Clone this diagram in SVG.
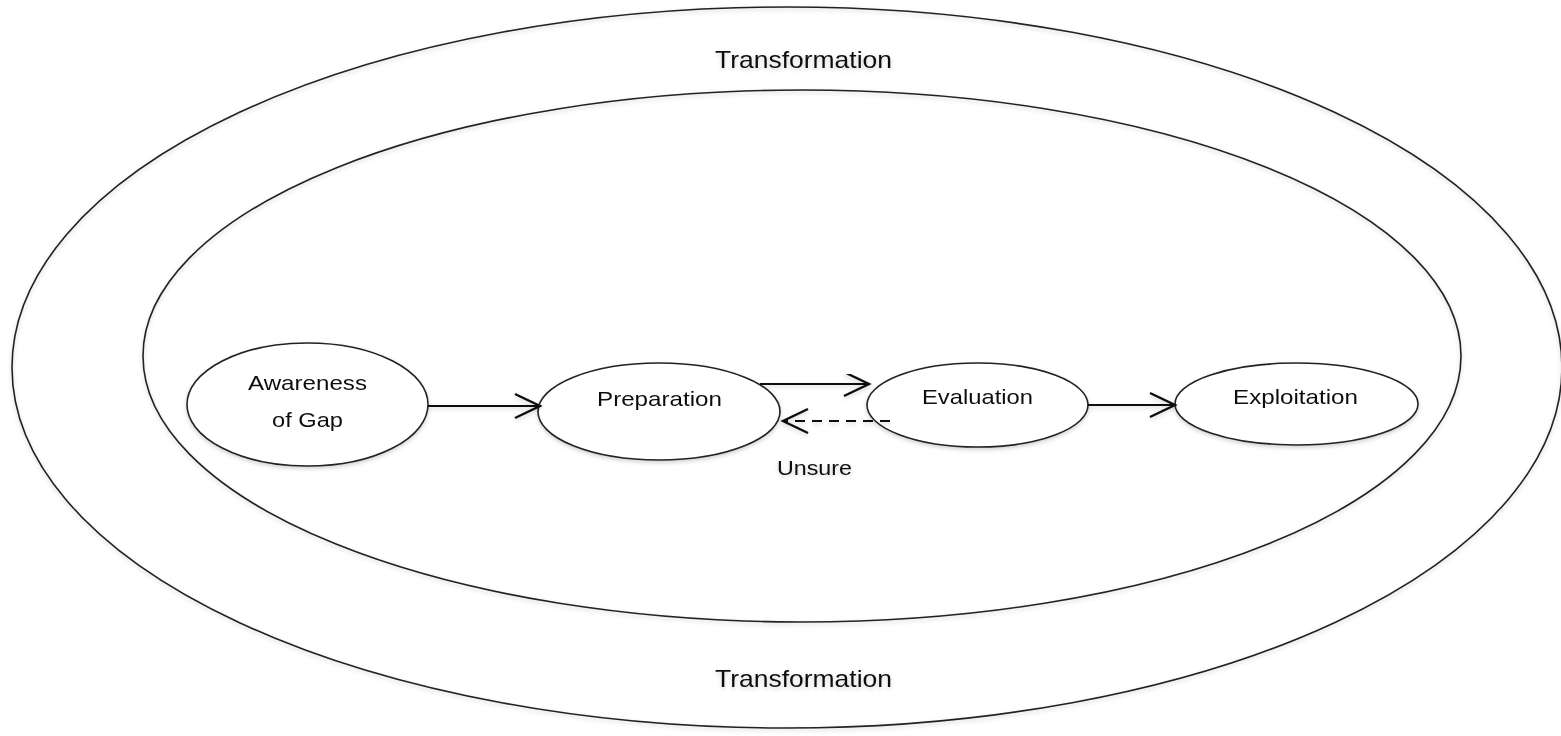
<svg xmlns="http://www.w3.org/2000/svg" width="1561" height="736" viewBox="0 0 1561 736">
<style>
.ring{fill:none;stroke:#222;stroke-width:1.6}
.node{fill:#fff;stroke:#222;stroke-width:1.6}
.lbl{font-family:"Liberation Sans",Arial,sans-serif;font-size:21px;fill:#111;text-anchor:middle}
.big{font-size:24px}
.edge{fill:none;stroke:#111;stroke-width:2.2}
.dash{stroke-dasharray:10 7}
.sh{filter:url(#shadow)}
</style>
<defs>
<filter id="shadow" x="-10%" y="-10%" width="120%" height="130%">
<feDropShadow dx="0" dy="2" stdDeviation="2" flood-color="#000" flood-opacity="0.18"/>
</filter>
<marker id="open" viewBox="-28 -15 31 30" refX="0" refY="0" markerWidth="31" markerHeight="30" markerUnits="userSpaceOnUse" orient="auto" overflow="visible">
<path d="M-25,-12 L0,0 L-25,12" fill="none" stroke="#111" stroke-width="2.4" stroke-linejoin="miter"/>
</marker>
</defs>
<rect width="1561" height="736" fill="#fff"/>
<g id="outer" class="sh">
<ellipse class="ring" cx="787" cy="367.5" rx="775" ry="360.5"/>
<text class="lbl big" x="803.5" y="68" textLength="177" lengthAdjust="spacingAndGlyphs">Transformation</text>
<text class="lbl big" x="803.5" y="687" textLength="177" lengthAdjust="spacingAndGlyphs">Transformation</text>
</g>
<g id="inner" class="sh">
<ellipse class="ring" cx="802" cy="356" rx="659" ry="266"/>
</g>
<g id="awareness" class="sh">
<ellipse class="node" cx="307.5" cy="404.5" rx="120.5" ry="61.5"/>
<text class="lbl" x="307.5" y="390" textLength="119" lengthAdjust="spacingAndGlyphs">Awareness</text>
<text class="lbl" x="307.5" y="427" textLength="71" lengthAdjust="spacingAndGlyphs">of Gap</text>
</g>
<g id="preparation" class="sh">
<ellipse class="node" cx="659" cy="411.5" rx="121" ry="48.5"/>
<text class="lbl" x="659.5" y="406" textLength="125" lengthAdjust="spacingAndGlyphs">Preparation</text>
</g>
<g id="evaluation" class="sh">
<ellipse class="node" cx="977.5" cy="405" rx="110.5" ry="42"/>
<text class="lbl" x="977.5" y="404" textLength="111" lengthAdjust="spacingAndGlyphs">Evaluation</text>
</g>
<g id="exploitation" class="sh">
<ellipse class="node" cx="1296.5" cy="404" rx="121.5" ry="41"/>
<text class="lbl" x="1295.5" y="404" textLength="125" lengthAdjust="spacingAndGlyphs">Exploitation</text>
</g>
<g id="connectors" class="sh">
<line class="edge" x1="428" y1="406" x2="540" y2="406" marker-end="url(#open)"/>
<line class="edge" x1="760" y1="384" x2="869" y2="384" marker-end="url(#open)"/>
<line class="edge dash" x1="890" y1="421" x2="783" y2="421" marker-end="url(#open)"/>
<line class="edge" x1="1088" y1="405" x2="1175" y2="405" marker-end="url(#open)"/>
<text class="lbl" x="814.5" y="475" textLength="75" lengthAdjust="spacingAndGlyphs">Unsure</text>
</g>
</svg>
